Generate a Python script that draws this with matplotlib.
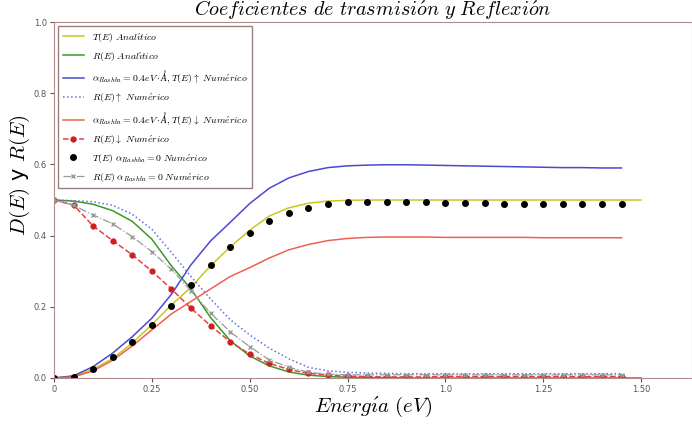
import matplotlib.pyplot as plt

plt.rcParams['mathtext.fontset'] = 'cm'

# Energy grids
x_ana = [0.0, 0.05, 0.1, 0.15, 0.2, 0.25, 0.3, 0.35, 0.4, 0.45, 0.5, 0.55, 0.6, 0.65, 0.7, 0.75,
         0.8, 0.85, 0.9, 0.95, 1.0, 1.05, 1.1, 1.15, 1.2, 1.25, 1.3, 1.35, 1.4, 1.45, 1.5]
x_num = x_ana[:-1]

# Analytic curves
t_ana = [0.0, 0.005, 0.024, 0.055, 0.098, 0.15, 0.205, 0.255, 0.315, 0.368, 0.415, 0.455, 0.478, 0.491,
         0.497, 0.499, 0.5, 0.5, 0.5, 0.5, 0.5, 0.5, 0.5, 0.5, 0.5, 0.5, 0.5, 0.5, 0.5, 0.5, 0.5]
r_ana = [0.5, 0.497, 0.488, 0.47, 0.44, 0.39, 0.315, 0.25, 0.17, 0.105, 0.062, 0.034, 0.017, 0.008,
         0.004, 0.002, 0.001, 0.001, 0.0, 0.0, 0.0, 0.0, 0.0, 0.0, 0.0, 0.0, 0.0, 0.0, 0.0, 0.0, 0.0]

# Numeric curves (Rashba 0.4 eV A)
t_up = [0.0, 0.006, 0.032, 0.07, 0.116, 0.168, 0.235, 0.318, 0.385, 0.437, 0.49, 0.533, 0.562, 0.58, 0.591,
        0.596, 0.598, 0.599, 0.599, 0.598, 0.597, 0.596, 0.595, 0.594, 0.593, 0.592, 0.591, 0.591, 0.59, 0.59]
r_up = [0.5, 0.498, 0.495, 0.485, 0.46, 0.418, 0.353, 0.285, 0.222, 0.164, 0.121, 0.084, 0.054, 0.03, 0.02,
        0.016, 0.014, 0.013, 0.012, 0.012, 0.012, 0.012, 0.012, 0.012, 0.012, 0.012, 0.012, 0.012, 0.012, 0.012]
t_down = [0.0, 0.003, 0.02, 0.05, 0.09, 0.135, 0.18, 0.215, 0.25, 0.285, 0.31, 0.337, 0.36, 0.375, 0.386,
          0.392, 0.395, 0.396, 0.396, 0.396, 0.395, 0.395, 0.395, 0.395, 0.395, 0.394, 0.394, 0.394, 0.394, 0.394]
r_down = [0.5, 0.486, 0.427, 0.386, 0.346, 0.3, 0.25, 0.196, 0.147, 0.102, 0.067, 0.041, 0.024, 0.013, 0.008,
          0.005, 0.004, 0.003, 0.003, 0.003, 0.004, 0.004, 0.004, 0.004, 0.004, 0.004, 0.004, 0.004, 0.004, 0.004]

# Numeric curves without Rashba
t_zero = [0.0, 0.004, 0.024, 0.06, 0.1, 0.148, 0.202, 0.26, 0.317, 0.367, 0.406, 0.442, 0.464, 0.478, 0.488,
          0.494, 0.495, 0.495, 0.494, 0.493, 0.492, 0.491, 0.491, 0.49, 0.49, 0.49, 0.489, 0.489, 0.489, 0.489]
r_zero = [0.5, 0.485, 0.458, 0.433, 0.397, 0.355, 0.305, 0.245, 0.182, 0.13, 0.088, 0.051, 0.03, 0.016, 0.011,
          0.009, 0.009, 0.009, 0.009, 0.009, 0.009, 0.009, 0.009, 0.009, 0.009, 0.009, 0.009, 0.009, 0.009, 0.009]

xticks = [0, 0.25, 0.5, 0.75, 1.0, 1.25, 1.5]
xticklabels = ['0', '0.25', '0.50', '0.75', '1.0', '1.25', '1.50']
yticks = [0.0, 0.2, 0.4, 0.6, 0.8, 1.0]

fig = plt.figure(figsize=(6.92, 4.24), dpi=100)
ax = fig.add_axes([0.078, 0.1085, 0.922, 0.8396])

ax.plot(x_ana, t_ana, '-', color='#c8c820', lw=1.1, label=r'$T(E)\ Anal\acute{\imath}tico$')
ax.plot(x_ana, r_ana, '-', color='#3a9a2a', lw=1.1, label=r'$R(E)\ Anal\acute{\imath}tico$')
ax.plot(x_num, t_up, '-', color='#4a4ad0', lw=1.1,
        label=r'$\alpha_{Rashba}=0.4eV\cdot\AA, T(E)\uparrow\ Num\acute{e}rico$')
ax.plot(x_num, r_up, ':', color='#6070e0', lw=1.1, label=r'$R(E)\uparrow\ Num\acute{e}rico$')
ax.plot(x_num, t_down, '-', color='#f06050', lw=1.1,
        label=r'$\alpha_{Rashba}=0.4eV\cdot\AA, T(E)\downarrow\ Num\acute{e}rico$')
ax.plot(x_num, r_down, '--', color='#e84040', lw=1.1, marker='o', ms=3.5, mfc='#cc2020', mec='#cc2020',
        label=r'$R(E)\downarrow\ Num\acute{e}rico$')
ax.plot(x_num, t_zero, 'o', color='k', ms=4, label=r'$T(E)\ \alpha_{Rashba}=0\ Num\acute{e}rico$')
ax.plot(x_num, r_zero, '-.', color='#999999', lw=0.9, marker='x', ms=3,
        label=r'$R(E)\ \alpha_{Rashba}=0\ Num\acute{e}rico$')

ax.set_xlim(0, 1.63)
ax.set_ylim(0, 1.0)
ax.set_xticks(xticks)
ax.set_xticklabels(xticklabels)
ax.set_yticks(yticks)
ax.tick_params(labelsize=6, colors='#555555', length=3, pad=2)
for s in ax.spines.values():
    s.set_color('#b08c8c')

ax.set_title(r'$Coeficientes\ de\ trasmisi\acute{o}n\ y\ Reflexi\acute{o}n$', fontsize=14.5, pad=1)
ax.set_xlabel(r'$Energ\acute{\imath}a\ (eV)$', fontsize=15, labelpad=1)
ax.set_ylabel(r'$D(E)$ y $R(E)$', fontsize=15)
ax.yaxis.set_label_coords(-0.035, 0.57)

leg = ax.legend(loc='upper left', fontsize=7, labelspacing=0.6, handlelength=2.2,
                borderaxespad=0.4, borderpad=0.5, fancybox=False)
leg.get_frame().set_edgecolor('#806060')

plt.savefig('out.png', dpi=100)
